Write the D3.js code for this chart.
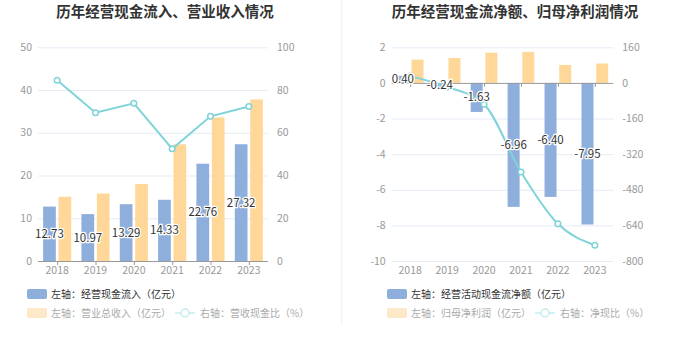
<!DOCTYPE html>
<html><head><meta charset="utf-8">
<script src="https://cdn.jsdelivr.net/npm/d3@7/dist/d3.min.js"></script>
<style>body{margin:0;background:#fff;}svg{display:block;font-family:"Noto Sans CJK SC","Noto Sans",sans-serif;}</style>
</head><body><svg id="c" width="680" height="349"></svg>
<script>
const years = ["2018","2019","2020","2021","2022","2023"];
// Left chart
const cashInflow = [12.73,10.97,13.29,14.33,22.76,27.32];
const revenue = [15.05,15.8,18.0,27.3,33.6,37.8];
const cashRevRatio = [84.6,69.4,73.8,52.5,67.7,72.3];
const leftTicksL = [0,10,20,30,40,50];
const leftTicksR = [0,20,40,60,80,100];
// Right chart
const netCashFlow = [0.40,-0.24,-1.63,-6.96,-6.40,-7.95];
const netProfit = [1.31,1.40,1.70,1.74,1.01,1.09];
const netCashRatio = [30.5,-18,-96,-400,-633,-729];
const rightTicksL = [2,0,-2,-4,-6,-8,-10];
const rightTicksR = [160,0,-160,-320,-480,-640,-800];

const BLUE="#8eaedb", ORANGE="#ffd899", CYAN="#7fd4d9";
const svg = d3.select("#c");

svg.append("line").attr("x1",341.5).attr("x2",341.5).attr("y1",0).attr("y2",325).attr("stroke","#f2f2f2").attr("stroke-width",1.2);

function chart(o){
  const g = svg.append("g");
  g.append("text").attr("x",o.tx).attr("y",17).attr("text-anchor","middle")
    .attr("font-size","14.5px").attr("font-weight","bold").attr("fill","#333").text(o.title);
  const x = d3.scaleBand().domain(years).range(o.xr);
  const yL = d3.scaleLinear().domain(o.dL).range([261,47.3]);
  const yR = d3.scaleLinear().domain(o.dR).range([261,47.3]);
  // grid
  o.tL.forEach(t=>{ if(t!==0) g.append("line").attr("x1",o.xr[0]).attr("x2",o.xr[1])
    .attr("y1",yL(t)+0.5).attr("y2",yL(t)+0.5).attr("stroke","#e6ebf5"); });
  // left tick labels
  g.selectAll(null).data(o.tL).enter().append("text").attr("x",o.xr[0]-6).attr("y",d=>yL(d))
    .attr("dy","0.35em").attr("text-anchor","end").attr("font-size","10.5px").attr("fill","#999").text(d=>d);
  g.selectAll(null).data(o.tR).enter().append("text").attr("x",o.xr[1]+9).attr("y",(d,i)=>yL(o.tL[i]))
    .attr("dy","0.35em").attr("text-anchor","start").attr("font-size","10.5px").attr("fill","#999").text(d=>d);
  const bw = x.bandwidth(), w = o.bw, gap = 2.7;
  const c = d=>x(d)+bw/2;
  // bars
  g.selectAll(null).data(o.a).enter().append("rect").attr("fill",BLUE)
    .attr("x",(d,i)=>c(years[i])-gap/2-w).attr("width",w)
    .attr("y",d=>Math.min(yL(d),yL(0))).attr("height",d=>Math.abs(yL(d)-yL(0)));
  g.selectAll(null).data(o.b).enter().append("rect").attr("fill",ORANGE)
    .attr("x",(d,i)=>c(years[i])+gap/2).attr("width",w)
    .attr("y",d=>Math.min(yL(d),yL(0))).attr("height",d=>Math.abs(yL(d)-yL(0)));
  // axis
  g.append("line").attr("x1",o.xr[0]).attr("x2",o.xr[1]).attr("y1",yL(0)+0.5).attr("y2",yL(0)+0.5).attr("stroke","#999");
  years.forEach(yr=>{ g.append("line").attr("x1",c(yr)+0.5).attr("x2",c(yr)+0.5).attr("y1",yL(0)).attr("y2",yL(0)+4).attr("stroke","#999"); });
  g.selectAll(null).data(years).enter().append("text").attr("x",d=>c(d)).attr("y",274)
    .attr("text-anchor","middle").attr("font-size","10.5px").attr("fill","#999").text(d=>d);
  // line
  const line = d3.line().x((d,i)=>c(years[i])).y(d=>yR(d)).curve(o.curve);
  g.append("path").datum(o.r).attr("d",line).attr("fill","none").attr("stroke",CYAN).attr("stroke-width",2);
  g.selectAll(null).data(o.r).enter().append("circle").attr("cx",(d,i)=>c(years[i])).attr("cy",d=>yR(d))
    .attr("r",2.8).attr("fill","#fff").attr("stroke",CYAN).attr("stroke-width",1.5);
  // labels
  g.selectAll(null).data(o.a).enter().append("text").attr("x",(d,i)=>c(years[i])-gap/2-w/2)
    .attr("y",d=>(yL(d)+yL(0))/2).attr("dy","0.35em").attr("text-anchor","middle")
    .attr("font-size","11.5px").attr("fill","#333").attr("stroke","#fff").attr("stroke-width",2.5)
    .attr("paint-order","stroke").text(d=>d.toFixed(2));
  // legend
  const lx = o.lx;
  g.append("rect").attr("x",lx).attr("y",289).attr("width",20).attr("height",10).attr("rx",2).attr("fill",BLUE);
  g.append("text").attr("x",lx+24).attr("y",294).attr("dy","0.35em").attr("font-size","10px").attr("fill","#333").text(o.l1);
  g.append("rect").attr("x",lx).attr("y",308).attr("width",20).attr("height",10).attr("rx",2).attr("fill","#fde9c8");
  g.append("text").attr("x",lx+24).attr("y",313).attr("dy","0.35em").attr("font-size","10px").attr("fill","#aaa").text(o.l2);
  g.append("line").attr("x1",lx+148).attr("x2",lx+168).attr("y1",313).attr("y2",313).attr("stroke","#c5ecee").attr("stroke-width",1.5);
  g.append("circle").attr("cx",lx+158).attr("cy",313).attr("r",4).attr("fill","#fff").attr("stroke","#c5ecee").attr("stroke-width",1.5);
  g.append("text").attr("x",lx+173).attr("y",313).attr("dy","0.35em").attr("font-size","10px").attr("fill","#aaa").text(o.l3);
}

chart({title:"历年经营现金流入、营业收入情况",tx:165,xr:[38,268],dL:[0,50],dR:[0,100],tL:leftTicksL,tR:leftTicksR,
  a:cashInflow,b:revenue,r:cashRevRatio,bw:12.7,curve:d3.curveLinear,lx:27,
  l1:"左轴：经营现金流入（亿元）",l2:"左轴：营业总收入（亿元）",l3:"右轴：营收现金比（%）"});
chart({title:"历年经营现金流净额、归母净利润情况",tx:515,xr:[391.7,613.3],dL:[-10,2],dR:[-800,160],tL:rightTicksL.slice().reverse(),tR:rightTicksR.slice().reverse(),
  a:netCashFlow,b:netProfit,r:netCashRatio,bw:12,curve:d3.curveMonotoneX,lx:387,
  l1:"左轴：经营活动现金流净额（亿元）",l2:"左轴：归母净利润（亿元）",l3:"右轴：净现比（%）"});
</script></body></html>
